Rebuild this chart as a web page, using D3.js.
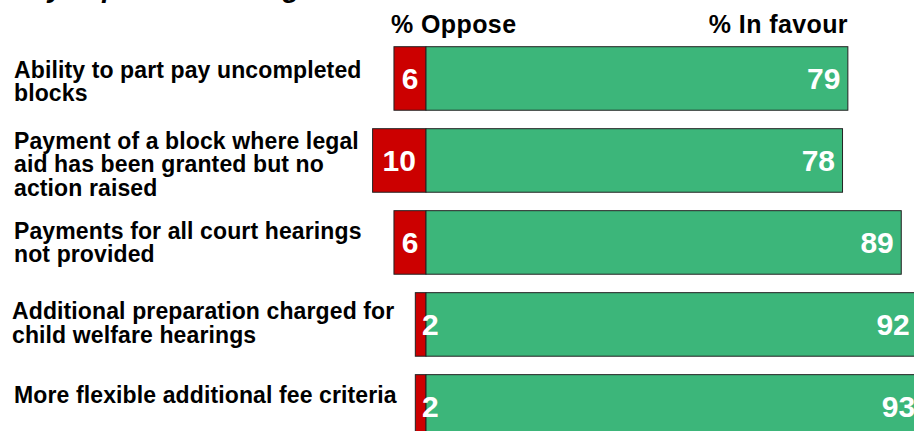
<!DOCTYPE html>
<html>
<head>
<meta charset="utf-8">
<script src="https://cdn.jsdelivr.net/npm/d3@7"></script>
<style>
  html, body { margin: 0; padding: 0; background: #fff; overflow: hidden; }
  svg { display: block; }
  text { font-family: "Liberation Sans", Arial, Helvetica, sans-serif; font-weight: bold; }
</style>
</head>
<body>
<svg id="chart" width="914" height="431"></svg>
<script>
// Survey results: share opposing / in favour of each proposal
const categories = [
  ["Ability to part pay uncompleted", "blocks"],
  ["Payment of a block where legal", "aid has been granted but no", "action raised"],
  ["Payments for all court hearings", "not provided"],
  ["Additional preparation charged for", "child welfare hearings"],
  ["More flexible additional fee criteria"]
];
const opposeValues = [6, 10, 6, 2, 2];
const favourValues = [79, 78, 89, 92, 93];
const seriesNames = ["% Oppose", "% In favour"];
const titleText = "Key aspects of changes";

const colors = { oppose: "#cc0000", favour: "#3cb67a", edge: "#222" };

const svg = d3.select("#chart");

// percentage scale; zero sits between the two segments
const x = d3.scaleLinear().domain([0, 100]).range([426, 960]);
const y = d3.scaleBand()
  .domain(d3.range(categories.length))
  .range([46.7, 438.2])
  .paddingInner(0.225)
  .paddingOuter(0);

// title (runs off the top edge)
svg.append("text")
  .attr("x", 12).attr("y", -3)
  .attr("font-size", 28)
  .attr("font-style", "italic")
  .attr("fill", "#000")
  .text(titleText);

// column headers
svg.append("text")
  .attr("x", 391).attr("y", 33)
  .attr("font-size", 25)
  .attr("letter-spacing", 0.4)
  .attr("fill", "#000")
  .text(seriesNames[0]);
svg.append("text")
  .attr("x", 848).attr("y", 33)
  .attr("font-size", 25)
  .attr("letter-spacing", 0.4)
  .attr("text-anchor", "end")
  .attr("fill", "#000")
  .text(seriesNames[1]);

const rows = svg.append("g").selectAll("g.row")
  .data(categories.map((c, i) => ({ lines: c, oppose: opposeValues[i], favour: favourValues[i], i })))
  .join("g").attr("class", "row");

// oppose segment
rows.append("rect")
  .attr("x", d => x(-d.oppose))
  .attr("y", d => y(d.i))
  .attr("width", d => x(0) - x(-d.oppose))
  .attr("height", y.bandwidth())
  .attr("fill", colors.oppose)
  .attr("stroke", colors.edge)
  .attr("stroke-width", 1);

// in favour segment
rows.append("rect")
  .attr("x", x(0))
  .attr("y", d => y(d.i))
  .attr("width", d => x(d.favour) - x(0))
  .attr("height", y.bandwidth())
  .attr("fill", colors.favour)
  .attr("stroke", colors.edge)
  .attr("stroke-width", 1);

const mid = d => y(d.i) + y.bandwidth() / 2;

// value labels
rows.append("text")
  .attr("x", d => Math.max((x(-d.oppose) + x(0)) / 2, x(-d.oppose) + 15))
  .attr("y", d => mid(d) + 10.7)
  .attr("text-anchor", "middle")
  .attr("font-size", 30)
  .attr("fill", "#fff")
  .text(d => d.oppose);

rows.append("text")
  .attr("x", d => x(d.favour) - 7.5)
  .attr("y", d => mid(d) + 10.7)
  .attr("text-anchor", "end")
  .attr("font-size", 30)
  .attr("fill", "#fff")
  .text(d => d.favour);

// category labels, wrapped lines centred on each row
const labelShift = [3, 3.4, -0.1, -1.5, -12];
const labelIndent = [14, 14, 14, 12, 14];
const lineH = 23.5;
rows.append("text")
  .attr("font-size", 23)
  .attr("letter-spacing", 0.12)
  .attr("fill", "#000")
  .each(function (d) {
    const c = mid(d) + labelShift[d.i];
    const n = d.lines.length;
    d3.select(this).selectAll("tspan")
      .data(d.lines)
      .join("tspan")
      .attr("x", labelIndent[d.i])
      .attr("y", (l, j) => c + (j - (n - 1) / 2) * lineH + 8.2)
      .text(l => l);
  });
</script>
</body>
</html>
